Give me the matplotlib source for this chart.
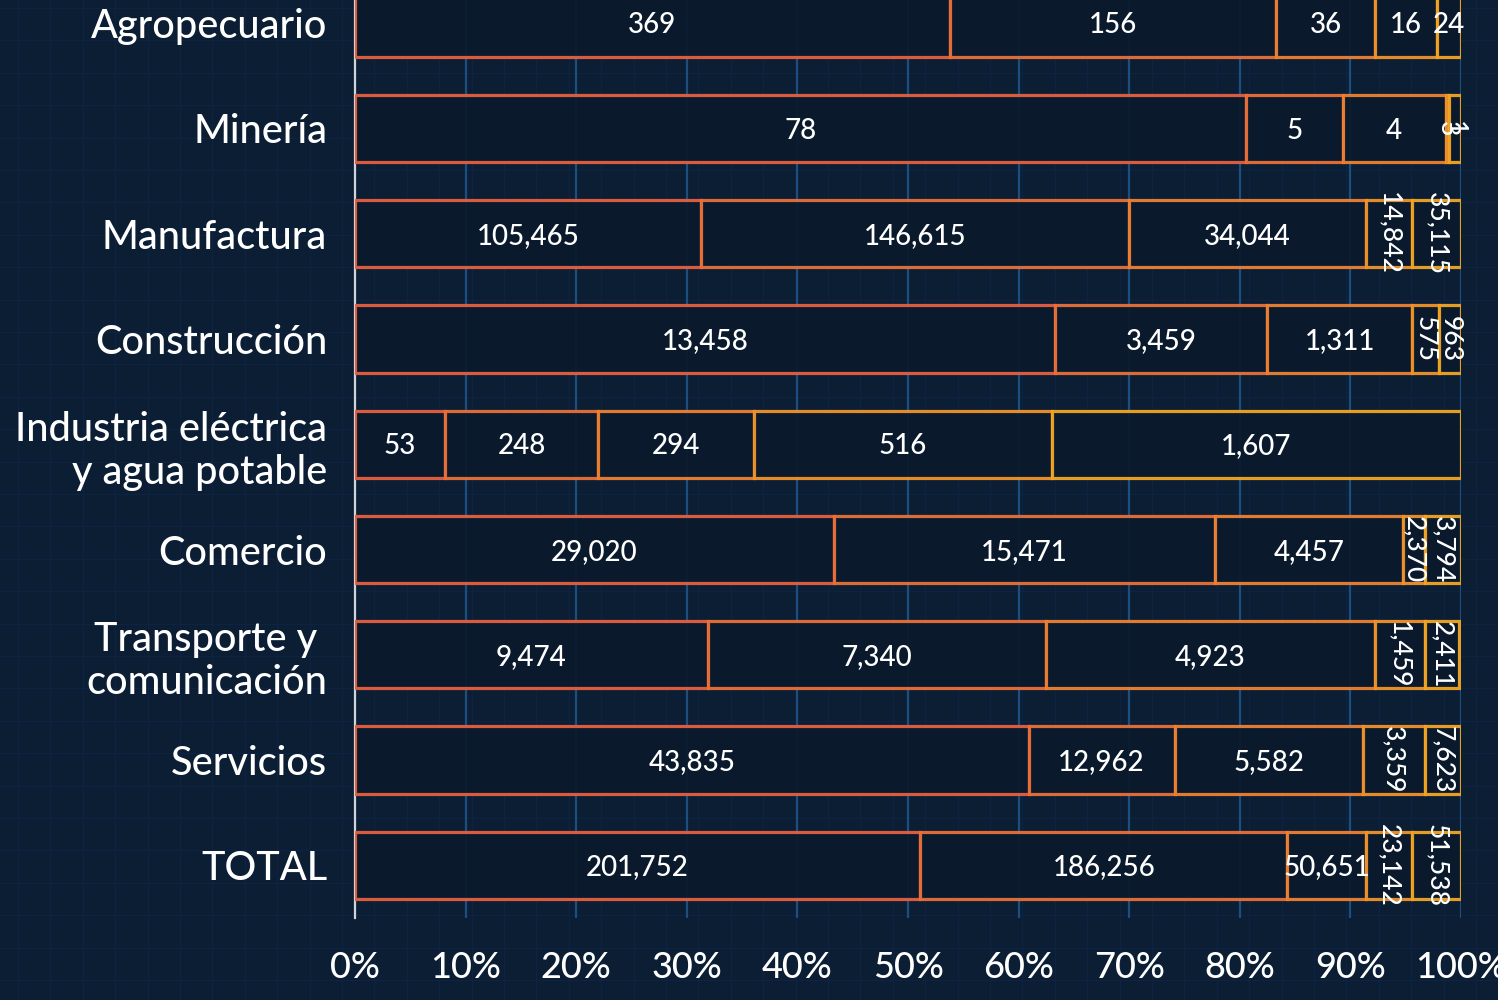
import matplotlib
matplotlib.use("Agg")
import matplotlib.pyplot as plt
import numpy as np
from matplotlib.lines import Line2D

categories = ["Agropecuario", "Minería", "Manufactura", "Construcción",
              "Industria eléctrica\ny agua potable", "Comercio",
              "Transporte y \ncomunicación", "Servicios", "TOTAL"]

# bar shares (%) per segment
share_s1 = [53.8, 80.6, 31.3, 63.3, 8.1, 43.3, 31.9, 60.9, 51.1]
share_s2 = [29.5, 8.7, 38.7, 19.2, 13.9, 34.5, 30.6, 13.2, 33.2]
share_s3 = [8.9, 9.3, 21.4, 13.1, 14.1, 17.0, 29.7, 17.0, 7.1]
share_s4 = [5.6, 0.3, 4.2, 2.4, 26.9, 1.9, 4.5, 5.6, 4.2]
share_s5 = [2.2, 1.1, 4.4, 2.0, 37.0, 3.3, 3.1, 3.3, 4.4]

# value labels shown in each segment
label_s1 = ["369", "78", "105,465", "13,458", "53", "29,020", "9,474", "43,835", "201,752"]
label_s2 = ["156", "5", "146,615", "3,459", "248", "15,471", "7,340", "12,962", "186,256"]
label_s3 = ["36", "4", "34,044", "1,311", "294", "4,457", "4,923", "5,582", "50,651"]
label_s4 = ["16", "3", "14,842", "575", "516", "2,370", "1,459", "3,359", "23,142"]
label_s5 = ["24", "1", "35,115", "963", "1,607", "3,794", "2,411", "7,623", "51,538"]

xticks = [0, 10, 20, 30, 40, 50, 60, 70, 80, 90, 100]
xticklabels = [f"{t}%" for t in xticks]

shares = [share_s1, share_s2, share_s3, share_s4, share_s5]
labels = [label_s1, label_s2, label_s3, label_s4, label_s5]
edge_colors = ["#e8603f", "#ec7139", "#f08232", "#f3942a", "#f5a623"]

BG = "#0b1e34"
FILL = "#0a1a2c"
FONT = ["Lato", "DejaVu Sans"]
plt.rcParams["font.family"] = FONT

fig = plt.figure(figsize=(14.98, 10), dpi=100, facecolor=BG)

# decorative background grid
for xp in np.arange(18, 1498, 32.4):
    fig.add_artist(Line2D([xp / 1498, xp / 1498], [0, 1], color="#0d2340",
                          lw=1, zorder=0, transform=fig.transFigure))
for yp in np.arange(8, 1000, 32.4):
    fig.add_artist(Line2D([0, 1], [1 - yp / 1000, 1 - yp / 1000], color="#0d2340",
                          lw=1, zorder=0, transform=fig.transFigure))

ax = fig.add_axes([355 / 1498, 82 / 1000, (1461 - 355) / 1498, 918 / 1000])
ax.set_facecolor("none")

y = np.arange(len(categories))
left = np.zeros(len(categories))
for k in range(5):
    vals = np.array(shares[k])
    ax.barh(y, vals, left=left, height=0.64, color=FILL, alpha=0.94,
            edgecolor=edge_colors[k], linewidth=2.3, zorder=3)
    for i in range(len(categories)):
        lab = labels[k][i]
        w = vals[i]
        cx = left[i] + w / 2
        rot = (w < 6 and len(lab) >= 3) or w < 1.5
        if rot:
            ax.text(cx, y[i], lab, rotation=-90, ha="center", va="center",
                    color="white", fontsize=19, fontweight="medium", zorder=5)
        else:
            ax.text(cx, y[i] + 0.02, lab, ha="center", va="center",
                    color="white", fontsize=20, fontweight="medium", zorder=5)
    left += vals

ax.set_xlim(0, 100)
ax.set_ylim(8.5, -0.22)
ax.set_xticks(xticks)
ax.set_xticklabels(xticklabels, fontweight="medium")
ax.set_yticks(y)
ax.set_yticklabels(categories, fontweight="medium")
ax.tick_params(axis="x", length=0, pad=24, labelsize=26, labelcolor="white")
ax.tick_params(axis="y", length=0, pad=20, labelsize=28.5, labelcolor="white")
ax.grid(axis="x", color="#1d4e80", linewidth=1.6, zorder=1)
ax.set_axisbelow(True)
for s in ["top", "right", "bottom"]:
    ax.spines[s].set_visible(False)
ax.spines["left"].set_color("#d0d4da")
ax.spines["left"].set_linewidth(1.6)

fig.savefig("out.png", dpi=100, facecolor=BG)
